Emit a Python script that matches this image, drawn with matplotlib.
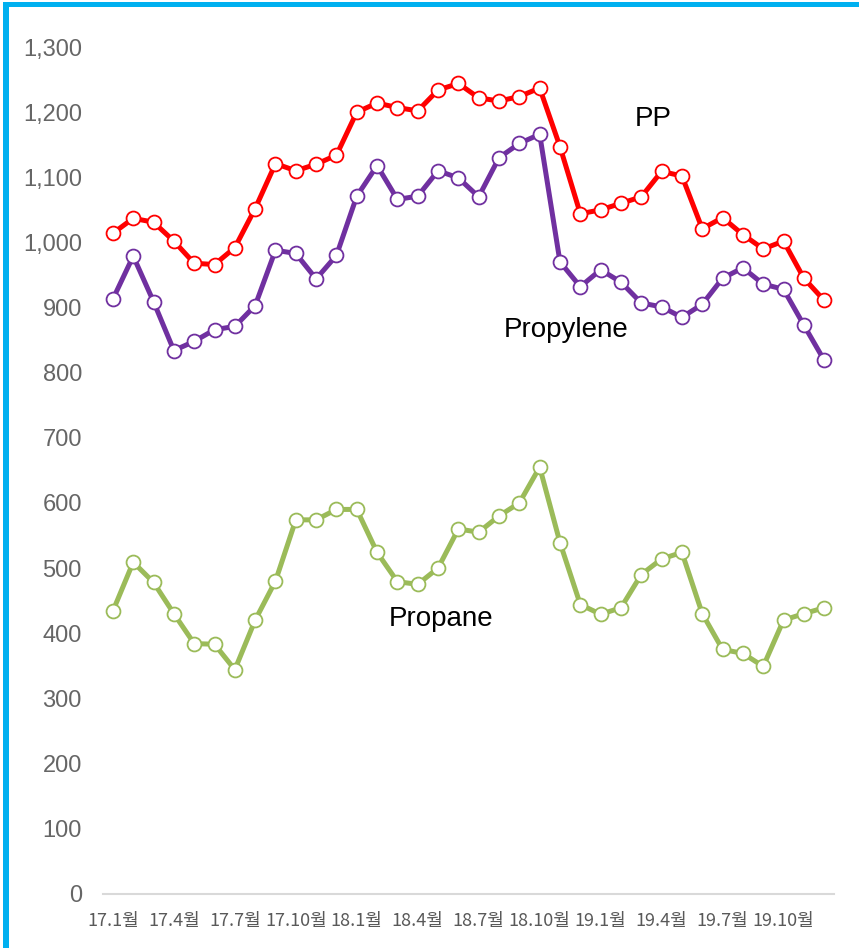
import matplotlib.pyplot as plt
import matplotlib.patches as patches
import numpy as np

# 월별 라벨 (17.1 ~ 19.12)
months = [f"{y}.{m}월" for y in (17, 18, 19) for m in range(1, 13)]
tick_idx = list(range(0, 36, 3))

pp = [1014, 1037, 1031, 1002, 968, 966, 992, 1052, 1121, 1110, 1120, 1134,
      1200, 1214, 1207, 1202, 1234, 1244, 1222, 1217, 1224, 1237, 1147, 1044,
      1050, 1060, 1070, 1109, 1102, 1021, 1038, 1012, 990, 1002, 945, 911]
propylene = [913, 979, 909, 834, 848, 866, 871, 903, 988, 983, 944, 980,
             1071, 1118, 1066, 1071, 1110, 1099, 1070, 1130, 1152, 1166, 970, 932,
             958, 939, 907, 901, 885, 905, 945, 961, 936, 928, 873, 819]
propane = [434, 509, 478, 430, 384, 383, 344, 420, 480, 574, 574, 590,
           590, 524, 479, 475, 500, 560, 555, 580, 600, 655, 539, 444,
           429, 439, 490, 514, 524, 430, 375, 369, 349, 420, 430, 439]

fig = plt.figure(figsize=(8.59, 9.48), dpi=100)
ax = fig.add_axes([0.1196, 0.0573, 0.8517, 0.8931])

x = np.arange(len(months))
series = [(pp, '#FF0000'), (propylene, '#7030A0'), (propane, '#9BBB59')]
for vals, col in series:
    ax.plot(x, vals, color=col, lw=3.6, marker='o', ms=10,
            mfc='white', mec=col, mew=1.3, clip_on=False, zorder=3)

ax.set_xlim(-0.5, 35.5)
ax.set_ylim(0, 1300)
ax.set_yticks(range(0, 1301, 100))
ax.set_yticklabels([f"{v:,}" for v in range(0, 1301, 100)],
                   fontsize=17, color='#666666', family='Liberation Sans')
ax.set_xticks(tick_idx)
ax.set_xticklabels([months[i] for i in tick_idx], fontsize=13, color='#595959',
                   family=['Noto Sans CJK KR', 'DejaVu Sans'])
ax.tick_params(axis='y', length=0, pad=15)
ax.tick_params(axis='x', length=0, pad=13)

for s in ['top', 'right', 'left']:
    ax.spines[s].set_visible(False)
ax.spines['bottom'].set_color('#D9D9D9')
ax.spines['bottom'].set_linewidth(1.5)

# 시리즈 이름
ax.text(26.6, 1189, 'PP', fontsize=20, ha='center', va='center', family='Liberation Sans')
ax.text(22.3, 865, 'Propylene', fontsize=20, ha='center', va='center', family='Liberation Sans')
ax.text(16.15, 421, 'Propane', fontsize=20, ha='center', va='center', family='Liberation Sans')

# 파란 테두리 (위, 왼쪽)
W, H = 859, 948
fig.add_artist(patches.Rectangle((3 / W, (H - 7.3) / H), 1, 5.6 / H,
                                 transform=fig.transFigure, color='#00B0F0', lw=0))
fig.add_artist(patches.Rectangle((3.3 / W, 0), 5.7 / W, (H - 1.7) / H,
                                 transform=fig.transFigure, color='#00B0F0', lw=0))

plt.savefig('out.png', dpi=100)
